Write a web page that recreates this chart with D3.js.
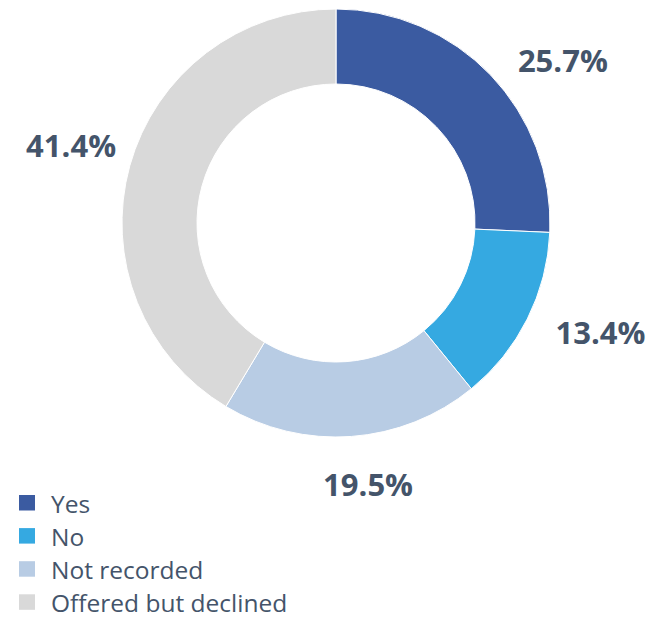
<!DOCTYPE html>
<html>
<head>
<meta charset="utf-8">
<script src="https://cdn.jsdelivr.net/npm/d3@7"></script>
<style>
  html, body { margin: 0; padding: 0; background: #fff; }
  svg { display: block; font-family: "Open Sans", sans-serif; }
</style>
</head>
<body>
<svg id="chart" width="664" height="617"></svg>
<script>
// data
var categories = ["Yes", "No", "Not recorded", "Offered but declined"];
var values = [25.7, 13.4, 19.5, 41.4];
var colors = ["#3b5ba1", "#35a9e1", "#b8cce4", "#d9d9d9"];

// label nudges (px) to match hand-placed labels
var labelNudge = [[26, 30], [16, -15], [12, -15], [3, -3]];

var width = 664, height = 617;
var cx = 336, cy = 223;
var outerR = 214, innerR = 139;
var labelR = 278;

var svg = d3.select("#chart");

var data = categories.map(function (c, i) {
  return { label: c, value: values[i], color: colors[i] };
});

var pieGen = d3.pie().sort(null).value(function (d) { return d.value; });
var arcs = pieGen(data);

var arcGen = d3.arc().innerRadius(innerR).outerRadius(outerR);
var labelArc = d3.arc().innerRadius(labelR).outerRadius(labelR);

var g = svg.append("g").attr("transform", "translate(" + cx + "," + cy + ")");

g.selectAll("path")
  .data(arcs)
  .enter()
  .append("path")
  .attr("d", arcGen)
  .attr("fill", function (d) { return d.data.color; })
  .attr("stroke", "#fff")
  .attr("stroke-width", 1);

g.selectAll("text.pct")
  .data(arcs)
  .enter()
  .append("text")
  .attr("class", "pct")
  .attr("transform", function (d, i) {
    var c = labelArc.centroid(d);
    return "translate(" + (c[0] + labelNudge[i][0]) + "," + (c[1] + labelNudge[i][1]) + ")";
  })
  .attr("text-anchor", "middle")
  .attr("dy", "0.36em")
  .attr("fill", "#44546a")
  .style("font-size", "31px")
  .style("font-weight", "bold")
  .text(function (d) { return d.data.value.toFixed(1) + "%"; });

// legend
var legend = svg.append("g").attr("transform", "translate(19,495)");
var rowH = 33.1;

var item = legend.selectAll("g")
  .data(data)
  .enter()
  .append("g")
  .attr("transform", function (d, i) { return "translate(0," + (i * rowH) + ")"; });

item.append("rect")
  .attr("width", 16)
  .attr("height", 15.5)
  .attr("fill", function (d) { return d.color; });

item.append("text")
  .attr("x", 32)
  .attr("y", 18)
  .attr("fill", "#44546a")
  .style("font-size", "24.5px")
  .text(function (d) { return d.label; });
</script>
</body>
</html>
